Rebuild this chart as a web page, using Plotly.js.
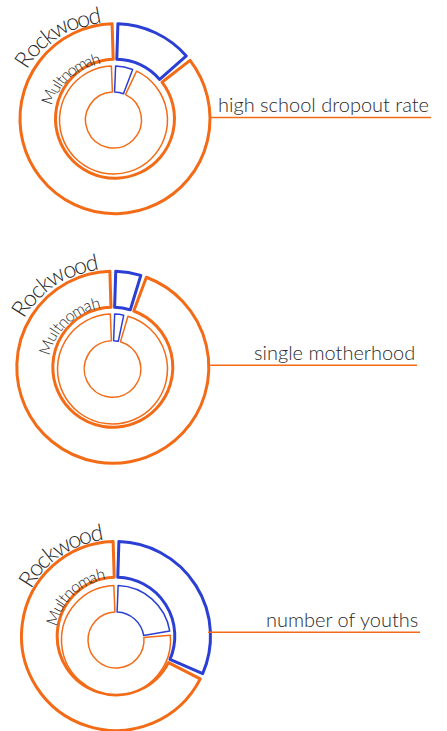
<!DOCTYPE html>
<html><head><meta charset="utf-8">
<script src="https://cdn.plot.ly/plotly-3.0.1.min.js"></script>
<style>html,body{margin:0;padding:0;background:#fff;} #chart{width:447px;height:731px;}</style>
</head><body><div id="chart"></div>
<script>
// ---------- data ----------
const indicators   = ['high school dropout rate', 'single motherhood', 'number of youths'];
const rockwoodPct  = [14, 5.2, 32];     // outer ring (Rockwood), blue share %
const multnomahPct = [6.4, 3.9, 23];    // inner ring (Multnomah), blue share %
const ringNames    = ['Rockwood', 'Multnomah'];

// ---------- style / layout ----------
const W = 447, H = 731;
const BLUE = '#2b3fd4', ORANGE = '#f36b16', TEXT = '#2a2a2a';
const FONT = 'Lato, "Helvetica Neue", Arial, sans-serif';
const WEIGHT = 300;

// a0/r0: centre of first letter, a1/r1: centre of last letter (deg clockwise from 12 o'clock)
const geo = [
  { outer:{cx:115, cy:118.7, r:95, rin:59.5}, inner:{cx:113.5, cy:120, r:54, rin:28},
    line:{x0:210, x1:431, y:117.5},
    rock:{a0:-57, a1:-11.2, r0:109.8, r1:105.5}, mult:{a0:-70.5, a1:-16.5, r0:69.3, r1:64} },
  { outer:{cx:112.8, cy:367.2, r:96, rin:60}, inner:{cx:112.5, cy:369, r:55, rin:28.3},
    line:{x0:208, x1:417, y:365.3},
    rock:{a0:-57.5, a1:-11.5, r0:110, r1:107.5}, mult:{a0:-71.5, a1:-14.5, r0:70.5, r1:68.6} },
  { outer:{cx:116, cy:636, r:94.5, rin:58.8}, inner:{cx:116, cy:640, r:54.5, rin:28},
    line:{x0:208, x1:420, y:632.3},
    rock:{a0:-57.3, a1:-10.6, r0:106.3, r1:105.8}, mult:{a0:-70.3, a1:-13.3, r0:67.4, r1:68.3} }
];

const OUTER_LW = 3, INNER_LW = 1.5;
const OUTER_GAP = 3.5, INNER_GAP = 4.5; // degrees
const TRANSP = 'rgba(0,0,0,0)';

function ringTrace(pct, g, lw, gapDeg) {
  const gv = gapDeg / 360 * 100;
  const values = [gv/2, pct - gv, gv, 100 - pct - gv, gv/2];
  return {
    type:'pie', values: values, sort:false, direction:'clockwise', rotation:0,
    hole: g.rin / g.r,
    domain:{ x:[(g.cx - g.r)/W, (g.cx + g.r)/W], y:[Math.max(0, 1 - (g.cy + g.r)/H), Math.min(1, 1 - (g.cy - g.r)/H)] },
    marker:{ colors:[TRANSP, '#ffffff', TRANSP, '#ffffff', TRANSP],
             line:{ color:[TRANSP, BLUE, TRANSP, ORANGE, TRANSP], width:[0, lw, 0, lw, 0] } },
    textinfo:'none', hoverinfo:'skip', showlegend:false
  };
}

const canvas = document.createElement('canvas');
const ctx = canvas.getContext('2d');

function curvedText(str, cx, cy, spec, size) {
  ctx.font = WEIGHT + ' ' + size + 'px ' + FONT;
  const chars = str.split('');
  const widths = chars.map(c => ctx.measureText(c).width);
  const centres = [];
  let cum = 0;
  widths.forEach(w => { centres.push(cum + w/2); cum += w; });
  const span = centres[centres.length-1] - centres[0];
  return chars.map((c, i) => {
    const t = (centres[i] - centres[0]) / span;
    const a = spec.a0 + (spec.a1 - spec.a0) * t;
    const r = spec.r0 + (spec.r1 - spec.r0) * t;
    const rad = a * Math.PI / 180;
    const x = cx + r * Math.sin(rad), y = cy - r * Math.cos(rad);
    return { xref:'paper', yref:'paper', x: x / W, y: 1 - y / H, text: c, showarrow:false,
      xanchor:'center', yanchor:'middle', textangle: a, borderpad:0,
      font:{ family: FONT, size: size, color: TEXT, weight: WEIGHT } };
  });
}

const traces = [];
const shapes = [];
let annotations = [];

geo.forEach((g, i) => {
  traces.push(ringTrace(rockwoodPct[i], g.outer, OUTER_LW, OUTER_GAP));
  traces.push(ringTrace(multnomahPct[i], g.inner, INNER_LW, INNER_GAP));
  shapes.push({ type:'line', xref:'paper', yref:'paper',
    x0: g.line.x0 / W, x1: g.line.x1 / W, y0: 1 - g.line.y / H, y1: 1 - g.line.y / H,
    line:{ color: ORANGE, width: 1.5 } });
  annotations.push({ xref:'paper', yref:'paper', x: (g.line.x1 - 1) / W, y: 1 - (g.line.y - 0.5) / H,
    xanchor:'right', yanchor:'bottom', text: indicators[i], showarrow:false, borderpad:0,
    font:{ family: FONT, size: 20, color: TEXT, weight: WEIGHT } });
  annotations = annotations.concat(curvedText(ringNames[0], g.outer.cx, g.outer.cy, g.rock, 23));
  annotations = annotations.concat(curvedText(ringNames[1], g.inner.cx, g.inner.cy, g.mult, 16));
});

Plotly.newPlot('chart', traces, {
  width: W, height: H, margin:{l:0, r:0, t:0, b:0},
  paper_bgcolor:'#ffffff', plot_bgcolor:'#ffffff', showlegend:false,
  shapes: shapes, annotations: annotations
}, {displayModeBar:false, staticPlot:true});
</script>
</body></html>
